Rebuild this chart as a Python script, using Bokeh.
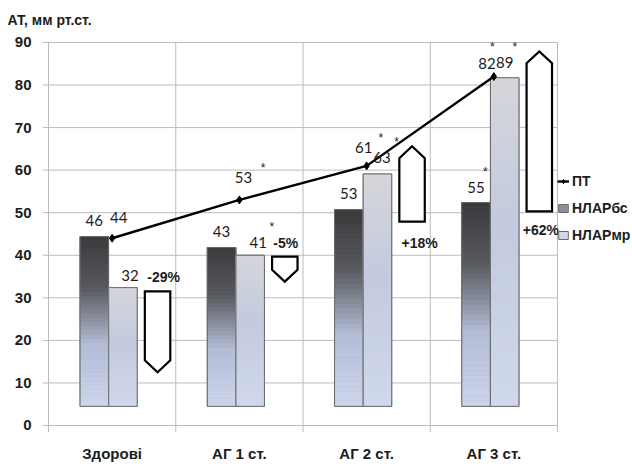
import numpy as np
from bokeh.plotting import figure
from bokeh.models import Range1d, FixedTicker, Legend, LegendItem, ColumnDataSource
from bokeh.core.properties import value
from bokeh.embed import file_html
from bokeh.resources import INLINE

# ---------------- data ----------------
categories = ["Здорові", "АГ 1 ст.", "АГ 2 ст.", "АГ 3 ст."]
pt_values = [44, 53, 61, 82]                 # ПТ line
bs_values = [44.4, 41.8, 50.7, 52.4]         # НЛАРбс bars (drawn heights)
bs_labels = ["46", "43", "53", "55"]
mr_values = [32.4, 40.0, 59.1, 81.7]         # НЛАРмр bars (drawn heights)
mr_labels = ["32", "41", "63", "89"]
pt_labels = ["44", "53", "61", "82"]
change_labels = ["-29%", "-5%", "+18%", "+62%"]
change_from = [31.5, 39.7, 47.9, 50.3]       # arrow tails
change_to = [12.5, 33.8, 65.6, 87.9]         # arrow tips
star_series = ["pt", "mr", "pt", "mr", "bs", "pt", "mr"]
star_index = [1, 1, 2, 2, 3, 3, 3]
y_ticks = [0, 10, 20, 30, 40, 50, 60, 70, 80, 90]

# ---------------- styles / layout ----------------
FONT_B = value("Liberation Sans")
FONT_NUM = value("Lato")
TXT = "#1c1c1c"
GRID = "#bcbcbc"
BAR_BASE = 4.5
BAR_W = 0.224
BS_DX = -0.14
MR_DX = 0.085
ARROW_DX = 0.357
ARROW_HALF = 0.1
ARROW_HEAD = 2.8
N_SEG = 40
Y_LO, Y_HI = -1.645, 92.34
X_LO, X_HI = -0.0472, 4.5894

bs_stops = [(0.0, "#3a3a3c"), (0.3, "#58595e"), (0.48, "#8a8f9e"),
            (0.63, "#b3bcd6"), (1.0, "#ced6ed")]
mr_stops = [(0.0, "#d5d6da"), (0.45, "#c3cadf"), (1.0, "#d0d8ee")]

# label offsets (pixels)
bs_dy = [-16, -16, -16, -15]
mr_dx = [7, 8, 4.5, 0]
mr_dy = [-12, -13, -16, -15]
pt_dx = [6.5, 4, -3, -7]
pt_dy = [-20.5, -22, -18, -13]
ch_dx = [6, 1, 7.5, 1.5]
ch_dy = [-14, -14, 21, 19]
star_dx = [23.7, 21.7, 14.3, 19.2, 9.2, -1.6, 10.2]
star_dy = [-35.7, -32, -31.7, -36, -34, -33.3, -34.6]
STAR_SHIFT = 4


def hex2rgb(h):
    h = h.lstrip("#")
    return np.array([int(h[i:i + 2], 16) for i in (0, 2, 4)], dtype=float)


def grad(stops, t):
    for (p0, c0), (p1, c1) in zip(stops[:-1], stops[1:]):
        if p0 <= t <= p1:
            f = (t - p0) / (p1 - p0)
            c = hex2rgb(c0) * (1 - f) + hex2rgb(c1) * f
            return "#%02x%02x%02x" % tuple(int(round(v)) for v in c)
    return stops[-1][1]


centers = [i + 0.5 for i in range(len(categories))]
bs_x = [c + BS_DX for c in centers]
mr_x = [c + MR_DX for c in centers]


def segments(xs, tops, stops):
    d = dict(x=[], bottom=[], top=[], color=[])
    for x, t in zip(xs, tops):
        for k in range(N_SEG):
            b0 = BAR_BASE + (t - BAR_BASE) * k / N_SEG
            b1 = BAR_BASE + (t - BAR_BASE) * (k + 1) / N_SEG
            frac = 1 - (k + 0.5) / N_SEG
            d["x"].append(x)
            d["bottom"].append(b0)
            d["top"].append(b1)
            d["color"].append(grad(stops, frac))
    return ColumnDataSource(d)


p = figure(width=632, height=468, output_backend="svg", toolbar_location=None,
           x_range=Range1d(X_LO, X_HI), y_range=Range1d(Y_LO, Y_HI),
           min_border_left=42, min_border_right=0, min_border_top=32,
           min_border_bottom=36, title="АТ, мм рт.ст.")
p.outline_line_color = None
p.xgrid.visible = False
p.ygrid.visible = False
p.background_fill_color = "white"

p.title.align = "left"
p.title.offset = -35
p.title.standoff = 9
p.title.text_font = "Liberation Sans"
p.title.text_font_size = "14px"
p.title.text_font_style = "bold"
p.title.text_color = TXT

# grid
p.segment(x0=[X_LO] * len(y_ticks), x1=[4.0] * len(y_ticks), y0=y_ticks, y1=y_ticks,
          line_color=GRID, line_width=1)
bounds = list(range(len(categories) + 1))
p.segment(x0=bounds, x1=bounds, y0=[Y_LO] * len(bounds), y1=[90] * len(bounds),
          line_color=GRID, line_width=1)

# bars
bs_base = p.vbar(x=bs_x, top=bs_values, bottom=BAR_BASE, width=BAR_W,
                 fill_color="#8c91a0", line_color="#6a6a6a", line_width=1)
mr_base = p.vbar(x=mr_x, top=mr_values, bottom=BAR_BASE, width=BAR_W,
                 fill_color="#d4d9e6", line_color="#6a6a6a", line_width=1)
for xs, vals, st in ((bs_x, bs_values, bs_stops), (mr_x, mr_values, mr_stops)):
    src = segments(xs, vals, st)
    p.vbar(x="x", top="top", bottom="bottom", width=BAR_W, source=src,
           fill_color="color", line_color="color", line_width=0.6)
    p.vbar(x=xs, top=vals, bottom=BAR_BASE, width=BAR_W, fill_color=None,
           line_color="#6a6a6a", line_width=1)

# arrows
axs, ays = [], []
for c, s, e in zip(centers, change_from, change_to):
    xc = c + ARROW_DX
    sg = 1 if e > s else -1
    sh = e - sg * ARROW_HEAD
    axs.append([xc - ARROW_HALF, xc + ARROW_HALF, xc + ARROW_HALF, xc, xc - ARROW_HALF])
    ays.append([s, s, sh, e, sh])
p.patches(axs, ays, fill_color="white", line_color="black", line_width=2.2,
          line_join="miter")

# line
pt_line = p.line(centers, pt_values, line_color="black", line_width=2.4)
pt_pts = p.scatter(centers, pt_values, marker="diamond", size=8, color="black")

# labels
p.text(x=bs_x, y=bs_values, text=bs_labels, y_offset=bs_dy, text_align="center",
       text_baseline="middle", text_font=FONT_NUM, text_font_size="15px", text_color=TXT)
p.text(x=mr_x, y=mr_values, text=mr_labels, x_offset=mr_dx, y_offset=mr_dy,
       text_align="center", text_baseline="middle", text_font=FONT_NUM,
       text_font_size="15px", text_color=TXT)
p.text(x=centers, y=pt_values, text=pt_labels, x_offset=pt_dx, y_offset=pt_dy,
       text_align="center", text_baseline="middle", text_font=FONT_NUM,
       text_font_size="15px", text_color=TXT)
p.text(x=[c + ARROW_DX for c in centers], y=change_from, text=change_labels,
       x_offset=ch_dx, y_offset=ch_dy, text_align="center", text_baseline="middle",
       text_font=FONT_B, text_font_size="14px", text_font_style="bold", text_color=TXT)

lookup = {"pt": (centers, pt_values), "bs": (bs_x, bs_values), "mr": (mr_x, mr_values)}
sx = [lookup[s][0][i] for s, i in zip(star_series, star_index)]
sy = [lookup[s][1][i] for s, i in zip(star_series, star_index)]
p.text(x=sx, y=sy, text=["*"] * len(sx), x_offset=star_dx,
       y_offset=[d + STAR_SHIFT for d in star_dy], text_align="center",
       text_baseline="middle", text_font=FONT_B, text_font_size="12px", text_color=TXT)

# axes
p.yaxis.ticker = FixedTicker(ticks=y_ticks)
p.yaxis.axis_line_color = None
p.yaxis.major_tick_line_color = None
p.yaxis.minor_tick_line_color = None
p.yaxis.major_tick_out = 0
p.yaxis.major_tick_in = 0
p.yaxis.minor_tick_out = 0
p.yaxis.major_label_standoff = 11
p.yaxis.major_label_text_font = "Liberation Sans"
p.yaxis.major_label_text_font_size = "15px"
p.yaxis.major_label_text_font_style = "bold"
p.yaxis.major_label_text_color = TXT

p.xaxis.ticker = FixedTicker(ticks=centers)
p.xaxis.major_label_overrides = {c: n for c, n in zip(centers, categories)}
p.xaxis.axis_line_color = None
p.xaxis.major_tick_line_color = None
p.xaxis.minor_tick_line_color = None
p.xaxis.major_tick_out = 0
p.xaxis.major_tick_in = 0
p.xaxis.minor_tick_out = 0
p.xaxis.major_label_standoff = 12
p.xaxis.major_label_text_font = "Liberation Sans"
p.xaxis.major_label_text_font_size = "15px"
p.xaxis.major_label_text_font_style = "bold"
p.xaxis.major_label_text_color = TXT

# legend
legend = Legend(items=[LegendItem(label="ПТ", renderers=[pt_line, pt_pts]),
                       LegendItem(label="НЛАРбс", renderers=[bs_base]),
                       LegendItem(label="НЛАРмр", renderers=[mr_base])],
                location=(515, 187.5), orientation="vertical", glyph_width=12,
                glyph_height=10, label_height=20, label_standoff=3, spacing=7,
                padding=0, margin=0, border_line_color=None, background_fill_alpha=0,
                label_text_font="Liberation Sans", label_text_font_size="14px",
                label_text_font_style="bold", label_text_color=TXT)
p.add_layout(legend)

open("out.html", "w").write(file_html(p, INLINE))
